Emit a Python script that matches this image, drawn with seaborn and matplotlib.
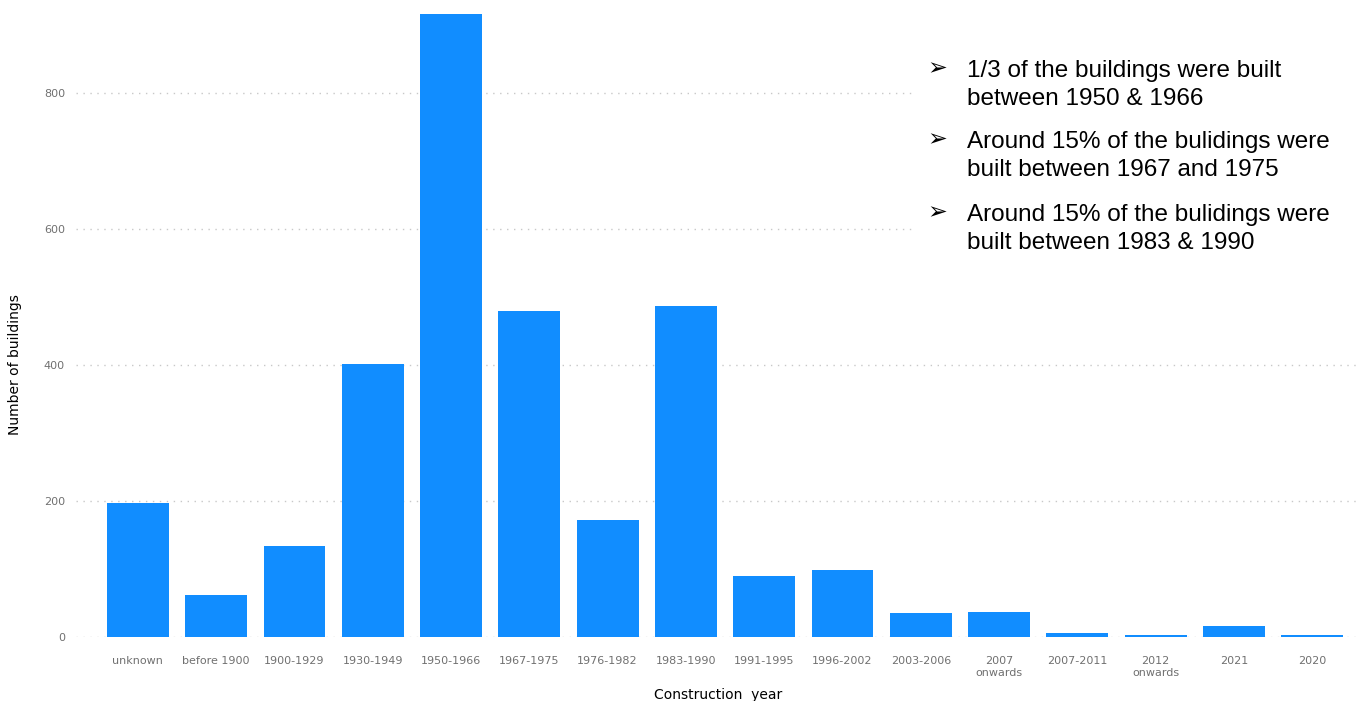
import matplotlib
matplotlib.use("Agg")
import matplotlib.pyplot as plt
from matplotlib.patches import Rectangle
import seaborn as sns
import pandas as pd

categories = ["unknown", "before 1900", "1900-1929", "1930-1949", "1950-1966",
              "1967-1975", "1976-1982", "1983-1990", "1991-1995", "1996-2002",
              "2003-2006", "2007\nonwards", "2007-2011", "2012\nonwards", "2021", "2020"]
buildings = [197, 62, 134, 401, 916, 479, 172, 487, 90, 99, 35, 37, 6, 3, 16, 3]
y_ticks = [0, 200, 400, 600, 800]

notes = [
    "1/3 of the buildings were built\nbetween 1950 & 1966",
    "Around 15% of the bulidings were\nbuilt between 1967 and 1975",
    "Around 15% of the bulidings were\nbuilt between 1983 & 1990",
]

sns.set_theme(style="white")
plt.rcParams["font.family"] = ["DejaVu Sans"]

W, H = 1362, 701
fig = plt.figure(figsize=(W / 100, H / 100), dpi=100)
ax = fig.add_axes([76 / W, 1 - 637 / H, (1360 - 76) / W, (637 - 14) / H])

df = pd.DataFrame({"year": categories, "count": buildings})
sns.barplot(data=df, x="year", y="count", color="#118DFF", saturation=1,
            width=0.79, linewidth=0, ax=ax, zorder=3)

ax.set_xlim(-0.79, 15.61)
ax.set_ylim(0, 916)
ax.set_yticks(y_ticks)
ax.yaxis.grid(True, linestyle=(0, (1, 4)), color="#c8c8c8", linewidth=1)
ax.set_axisbelow(True)
for s in ax.spines.values():
    s.set_visible(False)
ax.tick_params(axis="both", length=0, labelsize=8, labelcolor="#707070")
ax.tick_params(axis="x", pad=14)
ax.tick_params(axis="y", pad=8)

ax.set_xlabel("Construction  year", fontsize=10, color="black", labelpad=7)
ax.set_ylabel("")
fig.text(15 / W, 1 - 365 / H, "Number of buildings", rotation=90,
         ha="center", va="center", fontsize=10, color="black")

# white panel behind the notes
fig.add_artist(Rectangle((915 / W, 1 - 265 / H), (W - 915) / W, 222 / H,
                         transform=fig.transFigure, facecolor="white",
                         edgecolor="none", zorder=5))

note_y = [85, 156, 229]
for y, t in zip(note_y, notes):
    fig.text(927 / W, 1 - (y - 17) / H, "\u27a2", fontsize=17, fontweight="bold",
             family=["DejaVu Sans"], va="center", ha="left", color="black", zorder=6)
    fig.text(967 / W, 1 - y / H, t, fontsize=17.5,
             family=["Liberation Sans", "DejaVu Sans"], va="center", ha="left",
             color="black", linespacing=1.35, zorder=6)

fig.savefig("out.png", dpi=100)
